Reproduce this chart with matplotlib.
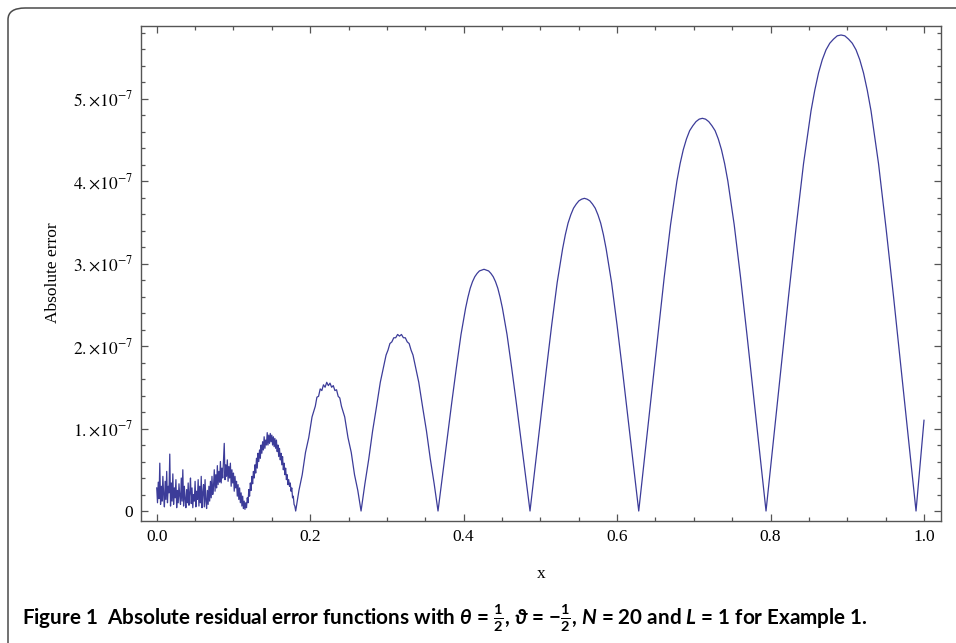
import numpy as np
import matplotlib
matplotlib.use("Agg")
import matplotlib.pyplot as plt
from matplotlib.patches import FancyBboxPatch
from matplotlib.ticker import MultipleLocator, FuncFormatter

# ---- data (x, absolute error in units of 1e-7) ----
# noisy part, sampled every 0.001 from 0.000 to 0.180
x_noise = list(np.round(np.arange(0, 181) * 0.001, 3))
y_noise = [0.28, 0.10, 0.35, 0.15, 0.58, 0.08, 0.30, 0.12, 0.42, 0.20,
           0.05, 0.36, 0.14, 0.48, 0.10, 0.30, 0.22, 0.69, 0.06, 0.34,
           0.12, 0.45, 0.08, 0.28, 0.16, 0.38, 0.04, 0.25, 0.10, 0.33,
           0.18, 0.08, 0.40, 0.12, 0.50, 0.06, 0.30, 0.15, 0.04, 0.26,
           0.10, 0.34, 0.07, 0.22, 0.40, 0.09, 0.28, 0.04, 0.20, 0.12,
           0.36, 0.05, 0.24, 0.14, 0.38, 0.06, 0.30, 0.10, 0.42, 0.04,
           0.22, 0.32, 0.05, 0.38, 0.12, 0.03, 0.25, 0.08, 0.30, 0.12,
           0.36, 0.16, 0.42, 0.20, 0.30, 0.50, 0.24, 0.44, 0.28, 0.55,
           0.32, 0.48, 0.35, 0.60, 0.34, 0.52, 0.40, 0.62, 0.82, 0.38,
           0.56, 0.42, 0.62, 0.36, 0.54, 0.40, 0.58, 0.30, 0.50, 0.34,
           0.46, 0.24, 0.42, 0.28, 0.36, 0.18, 0.32, 0.14, 0.28, 0.10,
           0.22, 0.06, 0.18, 0.03, 0.12, 0.02, 0.10, 0.04, 0.16, 0.10,
           0.26, 0.18, 0.34, 0.25, 0.42, 0.33, 0.48, 0.40, 0.56, 0.46,
           0.64, 0.52, 0.70, 0.60, 0.74, 0.64, 0.80, 0.70, 0.84, 0.74,
           0.90, 0.76, 0.86, 0.80, 0.95, 0.80, 0.92, 0.82, 0.94, 0.84,
           0.92, 0.80, 0.90, 0.78, 0.88, 0.76, 0.86, 0.72, 0.80, 0.66,
           0.76, 0.62, 0.70, 0.56, 0.66, 0.50, 0.58, 0.44, 0.52, 0.38,
           0.44, 0.32, 0.38, 0.30, 0.34, 0.24, 0.28, 0.16, 0.18, 0.08,
           0.06]

# smooth humps: zeros of the error curve and values read at fixed
# fractions of the way from one zero to the next
arc_zeros = [0.1811, 0.2663, 0.3666, 0.4865, 0.6282, 0.7941, 0.9896]
arc_frac = [0.0, 0.05, 0.10, 0.15, 0.20, 0.25, 0.30, 0.325, 0.35, 0.375,
            0.40, 0.425, 0.45, 0.475, 0.50, 0.525, 0.55, 0.575, 0.60, 0.625,
            0.65, 0.675, 0.70, 0.75, 0.80, 0.85, 0.90, 0.95]
arc1 = [0, .25, .44, .71, .89, 1.14, 1.27, 1.38, 1.39, 1.48, 1.46, 1.53, 1.50, 1.56,
        1.52, 1.55, 1.50, 1.52, 1.46, 1.47, 1.39, 1.37, 1.27, 1.14, .89, .71, .44, .25]
arc2 = [0, .33, .63, .97, 1.26, 1.56, 1.78, 1.89, 1.95, 2.03, 2.05, 2.10, 2.10, 2.14,
        2.12, 2.14, 2.10, 2.10, 2.05, 2.03, 1.95, 1.89, 1.78, 1.56, 1.26, .97, .63, .33]
arc3 = [0, .44, .88, 1.32, 1.74, 2.14, 2.46, 2.59, 2.70, 2.78, 2.84, 2.88, 2.91, 2.92,
        2.93, 2.92, 2.91, 2.88, 2.84, 2.78, 2.70, 2.59, 2.46, 2.14, 1.74, 1.32, .88, .44]
arc4 = [0, .57, 1.14, 1.71, 2.26, 2.77, 3.18, 3.35, 3.49, 3.59, 3.67, 3.72, 3.76, 3.78,
        3.79, 3.78, 3.76, 3.72, 3.67, 3.59, 3.49, 3.35, 3.18, 2.77, 2.26, 1.71, 1.14, .57]
arc5 = [0, .71, 1.43, 2.14, 2.83, 3.47, 4.00, 4.21, 4.38, 4.51, 4.61, 4.67, 4.72, 4.75,
        4.76, 4.75, 4.72, 4.67, 4.61, 4.51, 4.38, 4.21, 4.00, 3.47, 2.83, 2.14, 1.43, .71]
arc6 = [0, .87, 1.73, 2.60, 3.43, 4.21, 4.85, 5.10, 5.31, 5.47, 5.59, 5.67, 5.72, 5.76,
        5.77, 5.76, 5.72, 5.67, 5.59, 5.47, 5.31, 5.10, 4.85, 4.21, 3.43, 2.60, 1.73, .87]
arcs = [arc1, arc2, arc3, arc4, arc5, arc6]
x_tail = [0.9896, 0.9948, 1.0000]
y_tail = [0.00, 0.55, 1.10]

x_ticks = [0.0, 0.2, 0.4, 0.6, 0.8, 1.0]
y_ticks = [0, 1, 2, 3, 4, 5]   # in units of 1e-7

caption = (r"Figure 1  Absolute residual error functions with $\theta$ = $\frac{1}{2}$, "
           r"$\vartheta$ = $-\frac{1}{2}$, $N$ = 20 and $L$ = 1 for Example 1.")

# ---- assemble the curve ----
xs = list(x_noise)
ys = list(y_noise)
for i, vals in enumerate(arcs):
    z0, z1 = arc_zeros[i], arc_zeros[i + 1]
    xs += [z0 + f * (z1 - z0) for f in arc_frac]
    ys += vals
xs += x_tail
ys += y_tail
xs = np.array(xs, dtype=float)
ys = np.array(ys, dtype=float) * 1e-7

# ---- figure ----
plt.rcParams['mathtext.fontset'] = 'custom'
plt.rcParams['mathtext.rm'] = 'Lato:bold'
plt.rcParams['mathtext.it'] = 'Lato:bold:italic'
plt.rcParams['mathtext.bf'] = 'Lato:bold'
plt.rcParams['mathtext.fallback'] = 'stix'

W, H = 956, 643
fig = plt.figure(figsize=(W / 100, H / 100), dpi=100)

# outer rounded frame
box = FancyBboxPatch((8 / W, -0.05), 1.1, 1.05 - 8 / H,
                     boxstyle="round,pad=0,rounding_size=0.018",
                     transform=fig.transFigure, facecolor="white",
                     edgecolor="#4a4a4a", linewidth=1.1, zorder=-5)
fig.patches.append(box)

ax = fig.add_axes([141 / W, 1 - 520.5 / H, (941.5 - 141) / W, (520.5 - 25.5) / H])
ax.set_facecolor("none")
ax.set_zorder(2)

line_color = "#3c3c99"
ax.plot(xs, ys, color=line_color, linewidth=0.9)

ax.set_xlim(-0.0205, 1.0228)
ax.set_ylim(-0.115e-7, 5.885e-7)

ax.set_xticks(x_ticks)
ax.set_yticks([v * 1e-7 for v in y_ticks])
ax.xaxis.set_minor_locator(MultipleLocator(0.05))
ax.yaxis.set_minor_locator(MultipleLocator(0.2e-7))

ax.xaxis.set_major_formatter(FuncFormatter(lambda v, p: f"{v:.1f}"))

def yfmt(v, p):
    k = int(round(v / 1e-7))
    if k == 0:
        return "0"
    return rf"${k}.{{\times}}10^{{-7}}$"
ax.yaxis.set_major_formatter(FuncFormatter(yfmt))

frame_col = "#555555"
for s in ax.spines.values():
    s.set_color(frame_col)
    s.set_linewidth(1.0)
ax.tick_params(which="both", direction="in", top=True, right=True, color=frame_col,
               width=0.9)
ax.tick_params(which="major", length=5.2)
ax.tick_params(which="minor", length=3.0)
ax.tick_params(axis="both", labelsize=12.5, pad=6)
for lab in ax.get_xticklabels() + ax.get_yticklabels():
    lab.set_fontfamily("Liberation Serif")
    lab.set_math_fontfamily("stix")

ax.set_xlabel("x", fontsize=12.5, family="Liberation Serif", labelpad=15)
ax.set_ylabel("Absolute error", fontsize=12.5, family="Liberation Serif", labelpad=8)

fig.text(22 / W, 1 - 618 / H, caption, fontsize=14.9, fontweight="bold",
         family="Lato", ha="left", va="center", math_fontfamily="custom")

fig.savefig("out.png", dpi=100)
